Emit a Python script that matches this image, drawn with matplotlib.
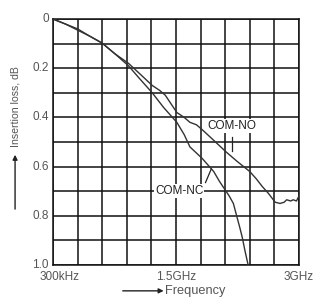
import matplotlib.pyplot as plt
import numpy as np

plt.rcParams['font.family'] = ['Liberation Sans', 'DejaVu Sans']

# Frequency in GHz, insertion loss in dB (plotted downward)
freq_no = [0.0, 0.15, 0.30, 0.45, 0.60, 0.75, 0.92, 1.05, 1.21, 1.30, 1.37, 1.45,
           1.51, 1.60, 1.67, 1.75, 1.82, 1.95, 2.11, 2.25, 2.40, 2.48, 2.55, 2.63,
           2.71, 2.77, 2.82, 2.85, 2.90, 2.93, 2.97, 3.0]
loss_no = [0.0, 0.02, 0.04, 0.07, 0.098, 0.14, 0.18, 0.22, 0.27, 0.29, 0.31, 0.35,
           0.38, 0.40, 0.42, 0.43, 0.45, 0.49, 0.54, 0.58, 0.62, 0.65, 0.68, 0.71,
           0.745, 0.75, 0.745, 0.735, 0.74, 0.735, 0.74, 0.72]

freq_nc = [0.0, 0.15, 0.30, 0.45, 0.60, 0.75, 0.92, 1.05, 1.21, 1.35, 1.51, 1.60,
           1.67, 1.75, 1.82, 1.96, 2.03, 2.11, 2.15, 2.20, 2.24, 2.28, 2.31, 2.34,
           2.36, 2.38]
loss_nc = [0.0, 0.02, 0.045, 0.07, 0.098, 0.14, 0.19, 0.24, 0.30, 0.36, 0.42, 0.47,
           0.52, 0.545, 0.567, 0.62, 0.66, 0.70, 0.72, 0.75, 0.80, 0.85, 0.89, 0.94,
           0.97, 1.0]

y_ticks = [0, 0.2, 0.4, 0.6, 0.8, 1.0]
y_tick_labels = ['0', '0.2', '0.4', '0.6', '0.8', '1.0']

txt = '#555555'

fig = plt.figure(figsize=(3.14, 2.98), dpi=100)
ax = fig.add_axes([0.169, 0.111, 0.783, 0.825])

ax.plot(freq_no, loss_no, color='#333333', lw=1.0, zorder=3)
ax.plot(freq_nc, loss_nc, color='#333333', lw=1.0, zorder=3)

ax.set_xlim(0, 3.0)
ax.set_ylim(1.0, 0)
ax.set_xticks(np.arange(0, 3.01, 0.3))
ax.set_yticks(np.arange(0, 1.01, 0.1))
ax.grid(True, color='#111111', lw=1.1)
ax.tick_params(length=0, labelbottom=False, labelleft=False)
for s in ax.spines.values():
    s.set_color('#111111')
    s.set_linewidth(1.1)

for v, lab in zip(y_ticks, y_tick_labels):
    ax.text(-0.05, v, lab, ha='right', va='center', fontsize=8.5, color=txt)

ax.text(-0.16, 1.025, '300kHz', ha='left', va='top', fontsize=8.5, color=txt)
ax.text(1.5, 1.025, '1.5GHz', ha='center', va='top', fontsize=8.5, color=txt)
ax.text(3.0, 1.025, '3GHz', ha='center', va='top', fontsize=8.5, color=txt)

# curve labels
ax.text(2.18, 0.435, 'COM-NO', ha='center', va='center', fontsize=8.5, color='#222222',
        bbox=dict(facecolor='white', edgecolor='none', pad=0.5), zorder=4)
ax.plot([2.18, 2.18], [0.48, 0.535], color='#222222', lw=0.9, zorder=4)
ax.text(1.54, 0.70, 'COM-NC', ha='center', va='center', fontsize=8.5, color='#222222',
        bbox=dict(facecolor='white', edgecolor='none', pad=0.5), zorder=4)
ax.plot([1.86, 1.93], [0.665, 0.61], color='#222222', lw=0.9, zorder=4)

# axis labels with arrows
fig.text(0.048, 0.644, 'Insertion loss, dB', rotation=90, ha='center', va='center',
         fontsize=7.6, color=txt)
ax.annotate('', xy=(0.048, 0.49), xytext=(0.048, 0.289), xycoords='figure fraction',
            textcoords='figure fraction', annotation_clip=False,
            arrowprops=dict(arrowstyle='-|>', color='#222222', lw=1.0, mutation_scale=7))
ax.annotate('', xy=(0.53, 0.024), xytext=(0.382, 0.024), xycoords='figure fraction',
            textcoords='figure fraction', annotation_clip=False,
            arrowprops=dict(arrowstyle='-|>', color='#222222', lw=1.0, mutation_scale=7))
fig.text(0.525, 0.024, 'Frequency', ha='left', va='center', fontsize=9.2, color=txt)

fig.savefig('out.png', dpi=100, facecolor='white')
